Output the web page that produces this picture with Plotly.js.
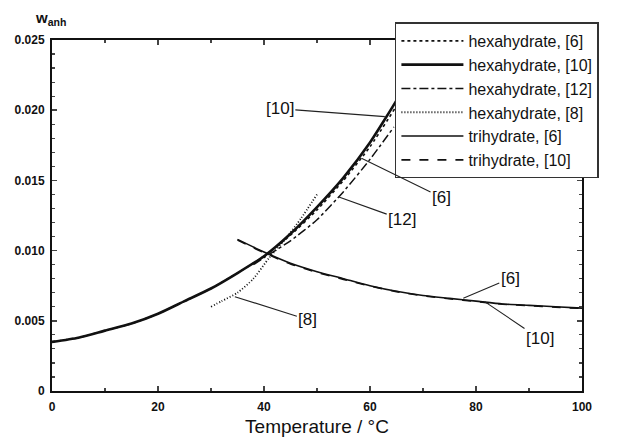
<!DOCTYPE html>
<html>
<head>
<meta charset="utf-8">
<script src="https://cdn.plot.ly/plotly-3.0.1.min.js"></script>
<style>html,body{margin:0;padding:0;background:#fff;}#chart{width:622px;height:439px;}</style>
</head>
<body>
<div id="chart"></div>
<script>
// Temperature (°C) and mass fraction of anhydrous salt w_anh
const hexa10_T = [0, 5, 10, 15, 20, 25, 30, 35, 40, 45, 50, 55, 60, 65, 66];
const hexa10_w = [0.0035, 0.0038, 0.0043, 0.0048, 0.0055, 0.0064, 0.0073, 0.0084, 0.0096, 0.0112, 0.0131, 0.0152, 0.0177, 0.0207, 0.0214];

const hexa6_T = [0, 5, 10, 15, 20, 25, 30, 35, 40, 45, 50, 55, 60, 65];
const hexa6_w = [0.0035, 0.0038, 0.0043, 0.0048, 0.0055, 0.0064, 0.0073, 0.0084, 0.0096, 0.0111, 0.0129, 0.0150, 0.0174, 0.0203];

const hexa12_T = [38, 40, 45, 50, 55, 60, 64.5];
const hexa12_w = [0.0090, 0.0095, 0.0107, 0.0122, 0.0142, 0.0165, 0.0188];

const hexa8_T = [30, 32, 35, 38, 41, 44, 47, 50];
const hexa8_w = [0.0060, 0.0064, 0.0070, 0.0080, 0.0095, 0.0108, 0.0123, 0.0140];

const tri6_T = [35, 40, 45, 50, 55, 60, 65, 70, 75, 80, 85, 90, 95, 100];
const tri6_w = [0.0108, 0.0099, 0.0091, 0.0085, 0.0080, 0.0075, 0.0071, 0.0068, 0.0066, 0.0064, 0.0062, 0.0061, 0.0060, 0.0059];

const tri10_T = [35, 40, 45, 50, 55, 60, 65, 70, 75, 80, 85, 90, 95, 100];
const tri10_w = [0.01075, 0.00985, 0.00905, 0.00845, 0.00795, 0.00748, 0.00708, 0.00678, 0.00657, 0.00637, 0.00618, 0.00607, 0.00597, 0.00588];

const seriesNames = ["hexahydrate, [6]", "hexahydrate, [10]", "hexahydrate, [12]", "hexahydrate, [8]", "trihydrate, [6]", "trihydrate, [10]"];

// Reference labels: [text, T, w at curve]
const labelText = ["[10]", "[6]", "[12]", "[8]", "[6]", "[10]"];
const labelT = [62.8, 58.4, 54.0, 34.5, 77.6, 81.7];
const labelW = [0.01954, 0.01657, 0.01384, 0.00672, 0.0066, 0.00635];

const xTicks = [0, 20, 40, 60, 80, 100];
const yTicks = [0, 0.005, 0.010, 0.015, 0.020, 0.025];
const yTickText = ["0", "0.005", "0.010", "0.015", "0.020", "0.025"];

const FONT = "Liberation Sans, Arial, sans-serif";
const styles = [
  {dash: "dot", width: 1.6},
  {dash: "solid", width: 2.6},
  {dash: "dashdot", width: 1.5},
  {dash: "1px,2px", width: 1.8},
  {dash: "solid", width: 1.6},
  {dash: "dash", width: 1.6}
];
const xs = [hexa6_T, hexa10_T, hexa12_T, hexa8_T, tri6_T, tri10_T];
const ys = [hexa6_w, hexa10_w, hexa12_w, hexa8_w, tri6_w, tri10_w];

const traces = seriesNames.map((n, i) => ({
  type: "scatter", mode: "lines", name: n,
  x: xs[i], y: ys[i],
  line: {color: "#111", dash: styles[i].dash, width: styles[i].width, shape: "spline", smoothing: 0.6}
}));

// label offsets (pixel) of text centres from the curve points
const offs = [[-105, -8], [80, 39], [64, 23], [73, 23], [47, -20], [55, 37]];
const annotations = labelText.map((t, i) => ({
  x: labelT[i], y: labelW[i], xref: "x", yref: "y",
  text: t, showarrow: true, arrowhead: 0, arrowwidth: 1.1, arrowcolor: "#222",
  ax: offs[i][0], ay: offs[i][1], standoff: 0, startstandoff: 0,
  font: {family: FONT, size: 17, color: "#111"}
}));
annotations.push({
  xref: "paper", yref: "paper", x: -0.036, y: 1.062, xanchor: "left", yanchor: "middle",
  text: "<b>w<sub>anh</sub></b>", showarrow: false,
  font: {family: FONT, size: 15, color: "#111"}
});

const layout = {
  width: 622, height: 439,
  margin: {l: 52, r: 40, t: 40, b: 48, autoexpand: false},
  paper_bgcolor: "#fff", plot_bgcolor: "#fff",
  font: {family: FONT, color: "#111"},
  showlegend: true,
  legend: {
    x: 0.647, y: 1.05, xanchor: "left", yanchor: "top",
    bgcolor: "#fff", bordercolor: "#333", borderwidth: 1.5,
    font: {family: FONT, size: 16, color: "#111"},
    itemwidth: 62
  },
  xaxis: {
    range: [0, 100], tickvals: xTicks, ticks: "inside", ticklen: 5, tickwidth: 1.5,
    showline: true, linecolor: "#111", linewidth: 2, mirror: "allticks", showgrid: false, zeroline: false,
    minor: {dtick: 10, ticks: "inside", ticklen: 3, tickwidth: 1.2, showgrid: false},
    tickfont: {family: FONT, size: 12, color: "#111", weight: "bold"},
    ticklabelstandoff: 4,
    title: {text: "Temperature / °C", font: {family: FONT, size: 19, color: "#111"}, standoff: 6}
  },
  yaxis: {
    range: [0, 0.025], tickvals: yTicks, ticktext: yTickText, ticks: "inside", ticklen: 5, tickwidth: 1.5,
    showline: true, linecolor: "#111", linewidth: 2, mirror: "allticks", showgrid: false, zeroline: false,
    minor: {dtick: 0.001, ticks: "inside", ticklen: 3, tickwidth: 1.2, showgrid: false},
    tickfont: {family: FONT, size: 12, color: "#111", weight: "bold"},
    ticklabelstandoff: 3
  },
  annotations: annotations
};

Plotly.newPlot("chart", traces, layout, {displayModeBar: false, staticPlot: true});
</script>
</body>
</html>
